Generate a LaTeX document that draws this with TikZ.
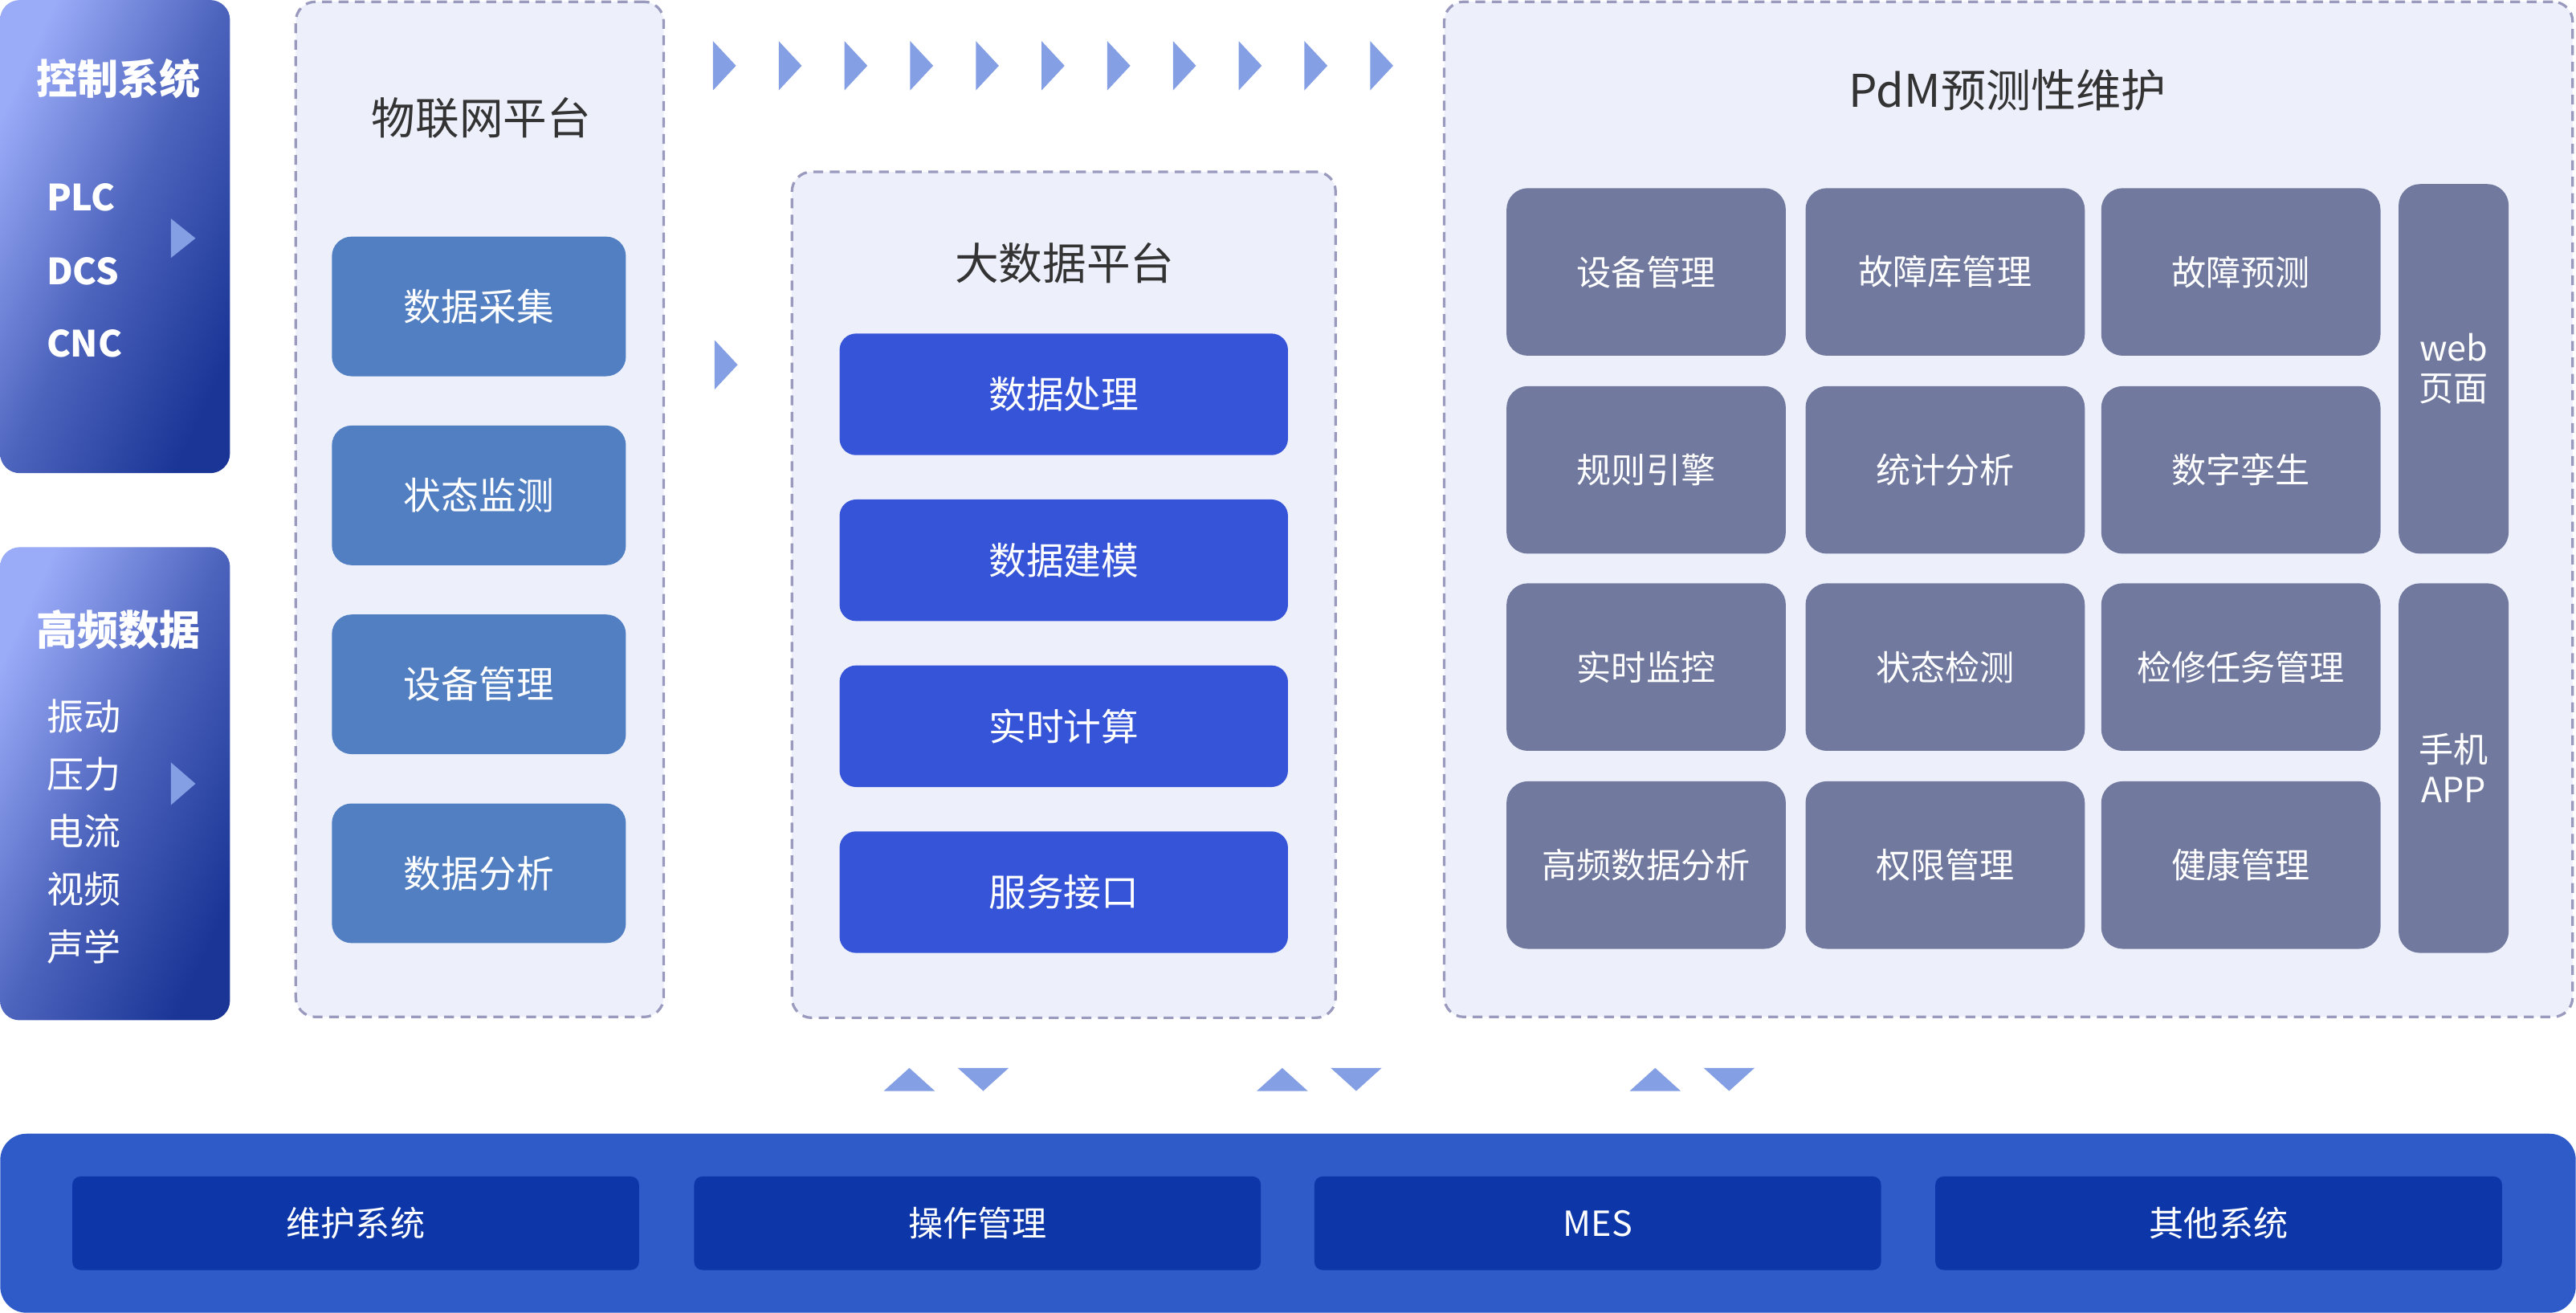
\documentclass[tikz,border=0pt]{standalone}
\usepackage{fontspec}
\setmainfont{Noto Sans CJK SC}
\definecolor{gradlight}{HTML}{9AABF8}
\definecolor{graddark}{HTML}{1A3596}
\definecolor{chevblue}{HTML}{849FE3}
\definecolor{panelfill}{HTML}{EDF0FB}
\definecolor{paneldash}{HTML}{9A9ABE}
\definecolor{iotblue}{HTML}{517FC2}
\definecolor{bdblue}{HTML}{3654D8}
\definecolor{pdmgray}{HTML}{717A9E}
\definecolor{barblue}{HTML}{2F5BC9}
\definecolor{bardark}{HTML}{0D37A8}
\definecolor{titlegray}{HTML}{333333}

\begin{document}
\begin{tikzpicture}[x=0.02cm,y=-0.02cm,
    srcbox/.style={rounded corners=0.24cm,top color=gradlight,bottom color=graddark,
      middle color=graddark!60!gradlight,shading angle=65,
      minimum width=2.8cm,minimum height=5.76cm,inner sep=0pt},
    srctitle/.style={text=white,font=\bfseries\fontsize{14.2}{17}\selectfont},
    srcitem/.style={text=white,anchor=west,inner sep=0pt,font=\fontsize{12.8}{15}\selectfont},
    panel/.style={rounded corners=0.24cm,fill=panelfill,draw=paneldash,line width=0.9pt,
      dash pattern=on 0.12cm off 0.08cm,inner sep=0pt},
    paneltitle/.style={text=titlegray,font=\fontsize{15.2}{18}\selectfont},
    iotbox/.style={rounded corners=0.24cm,fill=iotblue,text=white,minimum width=3.58cm,minimum height=1.7cm,
      font=\fontsize{13}{16}\selectfont},
    bdbox/.style={rounded corners=0.2cm,fill=bdblue,text=white,minimum width=5.46cm,minimum height=1.48cm,
      font=\fontsize{13}{16}\selectfont},
    pdmbox/.style={rounded corners=0.26cm,fill=pdmgray,text=white,minimum width=3.4cm,minimum height=2.04cm,
      font=\fontsize{12}{14}\selectfont},
    sidebox/.style={rounded corners=0.26cm,fill=pdmgray,text=white,minimum width=1.34cm,minimum height=4.5cm,
      align=center,font=\fontsize{12}{13.8}\selectfont},
    barbox/.style={rounded corners=0.1cm,fill=bardark,text=white,minimum width=6.9cm,minimum height=1.14cm,
      font=\fontsize{12}{14}\selectfont},
    chev/.style={fill=chevblue}]
  \useasboundingbox (0,0) rectangle (1568,799);

  % source systems
  \node[srcbox] (ctrl) at (70,144) {};
  \node[srctitle] (ctrlt) at (72,48) {控制系统};
  \node[srcitem,font=\bfseries\fontsize{12.5}{15}\selectfont] (plc) at (28,120) {PLC};
  \node[srcitem,font=\bfseries\fontsize{12.5}{15}\selectfont] (dcs) at (28,165) {DCS};
  \node[srcitem,font=\bfseries\fontsize{12.5}{15}\selectfont] (cnc) at (28,209) {CNC};
  \node[srcbox] (hf) at (70,477) {};
  \node[srctitle] (hft) at (72,383) {高频数据};
  \node[srcitem] (vib) at (28,436) {振动};
  \node[srcitem] (prs) at (28,471) {压力};
  \node[srcitem] (cur) at (28,506) {电流};
  \node[srcitem] (vid) at (28,541) {视频};
  \node[srcitem] (aco) at (28,576) {声学};
  \fill[chev] (104,133) -- (119,145) -- (104,157) -- cycle;
  \fill[chev] (104,464) -- (119,477) -- (104,490) -- cycle;

  % IoT platform
  \node[panel,minimum width=4.48cm,minimum height=12.36cm] (iot) at (292,310) {};
  \node[paneltitle] (iott) at (293,72) {物联网平台};
  \node[iotbox] (acq) at (291.5,186.5) {数据采集};
  \node[iotbox] (mon) at (291.5,301.5) {状态监测};
  \node[iotbox] (dev) at (291.5,416.5) {设备管理};
  \node[iotbox] (ana) at (291.5,531.5) {数据分析};

  % big data platform
  \node[panel,minimum width=6.62cm,minimum height=10.3cm] (bd) at (647.5,362) {};
  \node[paneltitle] (bdt) at (648,160) {大数据平台};
  \node[bdbox] (proc) at (647.5,240) {数据处理};
  \node[bdbox] (model) at (647.5,341) {数据建模};
  \node[bdbox] (rt) at (647.5,442) {实时计算};
  \node[bdbox] (api) at (647.5,543) {服务接口};

  % PdM
  \node[panel,minimum width=13.74cm,minimum height=12.36cm] (pdm) at (1222.5,310) {};
  \node[paneltitle,font=\fontsize{15.6}{18}\selectfont] (pdmt) at (1222,55) {PdM预测性维护};
  \node[pdmbox] (p11) at (1002,165.5) {设备管理};
  \node[pdmbox] (p12) at (1184,165.5) {故障库管理};
  \node[pdmbox] (p13) at (1364,165.5) {故障预测};
  \node[pdmbox] (p21) at (1002,286) {规则引擎};
  \node[pdmbox] (p22) at (1184,286) {统计分析};
  \node[pdmbox] (p23) at (1364,286) {数字孪生};
  \node[pdmbox] (p31) at (1002,406) {实时监控};
  \node[pdmbox] (p32) at (1184,406) {状态检测};
  \node[pdmbox] (p33) at (1364,406) {检修任务管理};
  \node[pdmbox] (p41) at (1002,526.5) {高频数据分析};
  \node[pdmbox] (p42) at (1184,526.5) {权限管理};
  \node[pdmbox] (p43) at (1364,526.5) {健康管理};
  \node[sidebox] (web) at (1493.5,224.5) {web\\页面};
  \node[sidebox] (app) at (1493.5,467.5) {手机\\APP};

  % flow marks
  \foreach \i in {0,...,10}
    \fill[chev] ({434+40*\i},25) -- ++(14,15) -- ++(-14,15) -- cycle;
  \fill[chev] (435,207) -- (449,222) -- (435,237) -- cycle;
  \foreach \x in {538,765,992}{
    \fill[chev] (\x,664) -- (\x+15.5,650) -- (\x+31,664) -- cycle;
    \fill[chev] (\x+45,650) -- (\x+76,650) -- (\x+60.5,664) -- cycle;
  }

  % enterprise systems
  \node[rounded corners=0.32cm,fill=barblue,minimum width=31.36cm,minimum height=2.18cm] (bar) at (784,744.5) {};
  \node[barbox] (maint) at (216.5,744.5) {维护系统};
  \node[barbox] (ops) at (595,744.5) {操作管理};
  \node[barbox] (mes) at (972.5,744.5) {MES};
  \node[barbox] (other) at (1350.5,744.5) {其他系统};
\end{tikzpicture}
\end{document}
